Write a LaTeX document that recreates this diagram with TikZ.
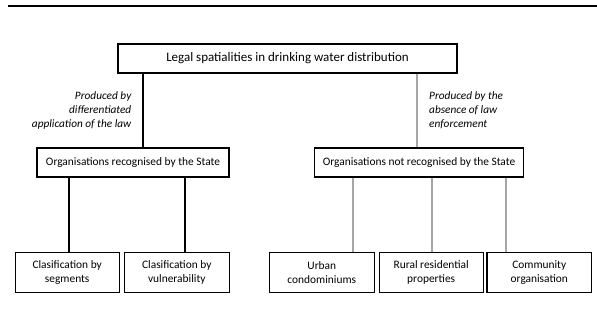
\documentclass[tikz,border=0pt]{standalone}
\usepackage{fontspec}
\setmainfont{Carlito}
\begin{document}
\begin{tikzpicture}[x=1pt,y=-1pt,
  box/.style={draw=black,line width=1.1pt,fill=white,inner sep=0pt,align=center,anchor=center},
  topbox/.style={box,minimum height=29pt,font=\fontsize{13}{15}\selectfont},
  midbox/.style={box,minimum height=29pt,font=\fontsize{11.4}{14}\selectfont},
  leafbox/.style={box,minimum height=40pt,font=\fontsize{11.4}{14}\selectfont},
  blackline/.style={draw=black,line width=2pt},
  greyline/.style={draw=black!35,line width=2pt},
  lbl/.style={font=\fontsize{11.3}{14}\selectfont\itshape,inner sep=0pt}]
\useasboundingbox (0,0) rectangle (597,330);
\coordinate (r0) at (8,6);
\coordinate (r1) at (597,6);
\draw[line width=1.3pt] (r0) -- (r1);

\node[topbox,minimum width=339pt] (top) at (287.5,58.5) {Legal spatialities in drinking water distribution};
\node[midbox,minimum width=192pt] (lm) at (133,162.5) {Organisations recognised by the State};
\node[midbox,minimum width=209pt] (rm) at (419,162.5) {Organisations not recognised by the State};

\node[leafbox,minimum width=104.3pt] (b1) at (67.2,272.7) {Clasification by\\segments};
\node[leafbox,minimum width=105pt] (b2) at (176.8,272.7) {Clasification by\\vulnerability};
\node[leafbox,minimum width=105pt] (b3) at (321.8,272.7) {Urban\\condominiums};
\node[leafbox,minimum width=104.3pt] (b4) at (431.2,272.7) {Rural residential\\properties};
\node[leafbox,minimum width=104.7pt] (b5) at (539.3,272.7) {Community\\organisation};

\coordinate (xl) at (142.5,0);
\coordinate (xr) at (417.3,0);
\coordinate (x1) at (69,0);
\coordinate (x2) at (185,0);
\coordinate (x3) at (352.7,0);
\coordinate (x4) at (431.5,0);
\coordinate (x5) at (505.7,0);

\draw[blackline] (top.south -| xl) -- (lm.north -| xl);
\draw[greyline] (top.south -| xr) -- (rm.north -| xr);
\draw[blackline] (lm.south -| x1) -- (b1.north -| x1);
\draw[blackline] (lm.south -| x2) -- (b2.north -| x2);
\draw[greyline] (rm.south -| x3) -- (b3.north -| x3);
\draw[greyline] (rm.south -| x4) -- (b4.north -| x4);
\draw[greyline] (rm.south -| x5) -- (b5.north -| x5);

\node[lbl,align=right,anchor=east] (la) at (131.5,110.5) {Produced by\\differentiated\\application of the law};
\node[lbl,align=left,anchor=west] (ra) at (429,110.5) {Produced by the\\absence of law\\enforcement};
\end{tikzpicture}
\end{document}
